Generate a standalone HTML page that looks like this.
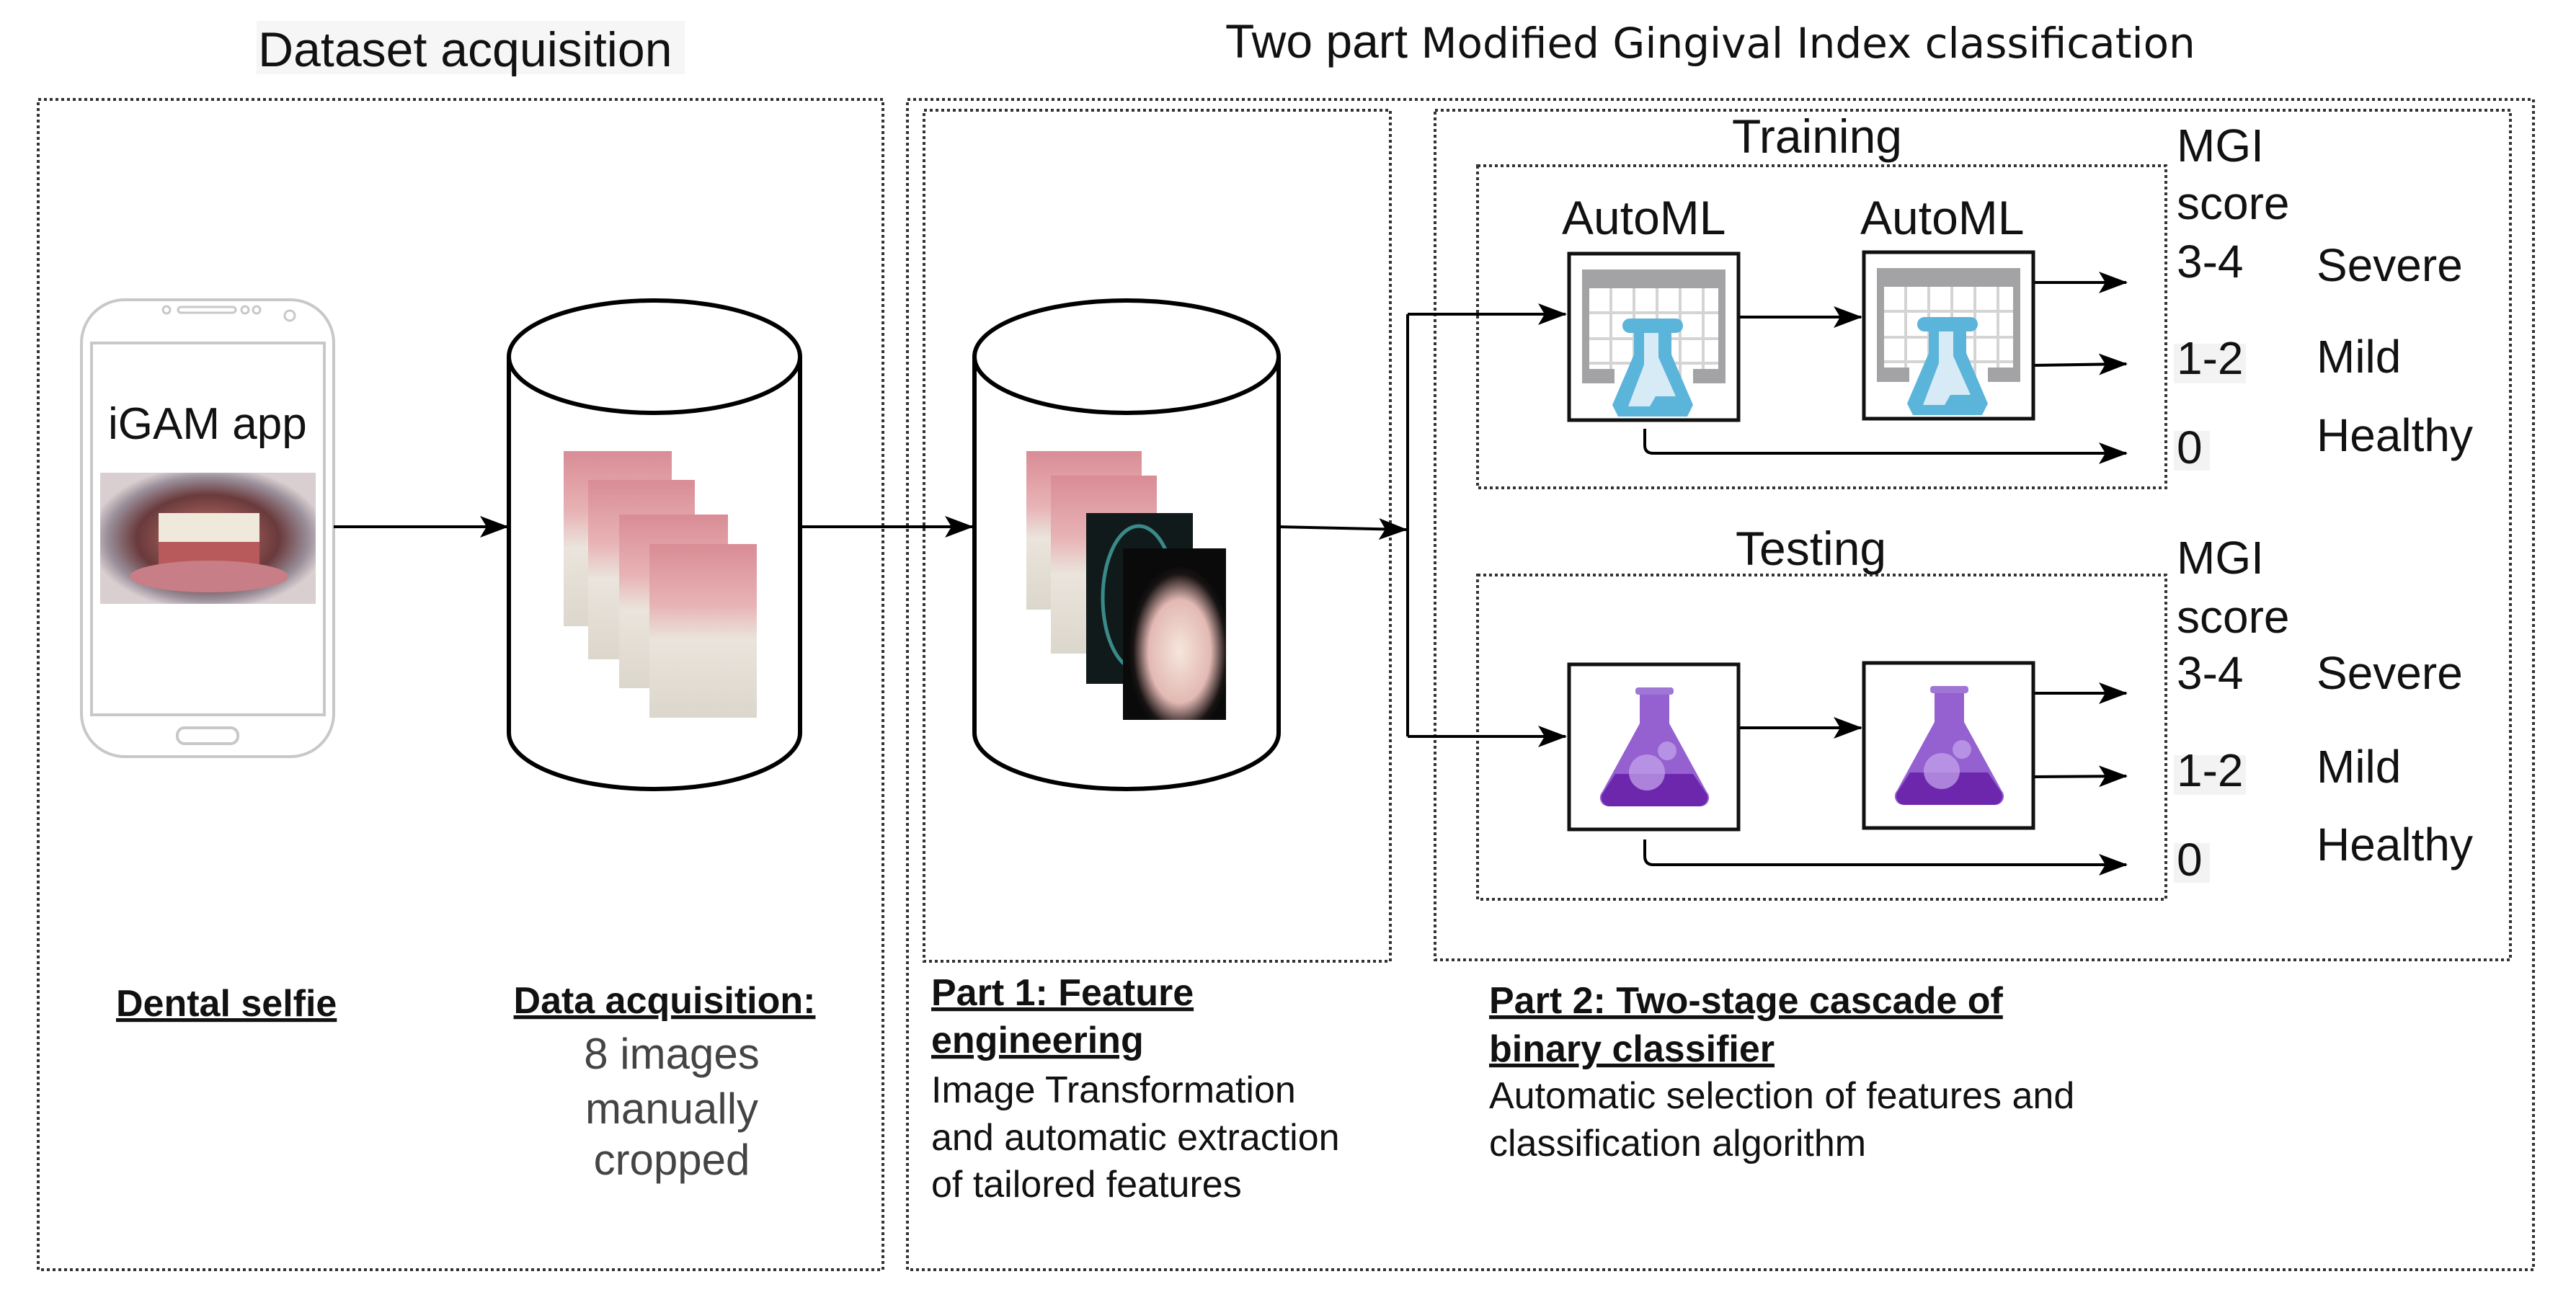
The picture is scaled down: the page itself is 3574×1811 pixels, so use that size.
<!DOCTYPE html>
<html><head><meta charset="utf-8"><style>
html,body{margin:0;padding:0;background:#fff;}
svg{display:block;}
text{font-family:"Liberation Sans",Arial,sans-serif;}
</style></head><body>
<svg width="3574" height="1811" viewBox="0 0 3574 1811" xmlns="http://www.w3.org/2000/svg">
<defs>
<marker id="ah" viewBox="0 0 40 30" refX="38" refY="15" markerWidth="40" markerHeight="30" markerUnits="userSpaceOnUse" orient="auto">
<path d="M0,0 L40,15 L0,30 L9,15 Z" fill="#000"/>
</marker>
<linearGradient id="tooth" x1="0" y1="0" x2="0" y2="1">
<stop offset="0" stop-color="#d98c95"/><stop offset="0.35" stop-color="#e8b3b5"/><stop offset="0.55" stop-color="#eae4dc"/><stop offset="1" stop-color="#dcd7cc"/>
</linearGradient>
<radialGradient id="dark" cx="0.55" cy="0.6" r="0.5">
<stop offset="0" stop-color="#f5e6dc"/><stop offset="0.6" stop-color="#e3b9b4"/><stop offset="0.9" stop-color="#1a1414"/><stop offset="1" stop-color="#0a0a0a"/>
</radialGradient>
<radialGradient id="mouth" cx="0.5" cy="0.5" r="0.55">
<stop offset="0" stop-color="#c9796f"/><stop offset="0.6" stop-color="#6a3a3c"/><stop offset="0.85" stop-color="#9a8f9a"/><stop offset="1" stop-color="#d9cfd0"/>
</radialGradient>
<g id="gridflask">
<rect x="0" y="0" width="235" height="231" fill="#fff" stroke="#111" stroke-width="5"/>
<rect x="18" y="22" width="199" height="158" fill="#a3a3a5"/>
<rect x="28" y="48" width="179" height="132" fill="#fff"/>
<g stroke="#d4d4d4" stroke-width="4">
<line x1="58" y1="48" x2="58" y2="180"/><line x1="90" y1="48" x2="90" y2="180"/><line x1="122" y1="48" x2="122" y2="180"/><line x1="154" y1="48" x2="154" y2="180"/><line x1="186" y1="48" x2="186" y2="180"/>
<line x1="28" y1="82" x2="207" y2="82"/><line x1="28" y1="118" x2="207" y2="118"/><line x1="28" y1="152" x2="207" y2="152"/>
</g>
<rect x="28" y="160" width="35" height="20" fill="#a3a3a5"/><rect x="172" y="160" width="45" height="20" fill="#a3a3a5"/>
<path d="M82,90 h66 a10,10 0 0 1 0,20 h-6 v30 l30,70 l-8,16 h-96 l-8,-16 l30,-70 v-30 h-6 a10,10 0 0 1 0,-20 Z" fill="#5bb4da"/>
<path d="M104,110 h20 v34 l24,54 h-28 l-8,14 h-30 l22,-58 Z" fill="#d6ebf5"/>
</g>
<g id="purpflask">
<rect x="0" y="0" width="235" height="229" fill="#fff" stroke="#111" stroke-width="5"/>
<rect x="92" y="32" width="53" height="10" rx="4" fill="#9f75d6"/>
<path d="M98,42 h41 v40 l52,95 a12,12 0 0 1 -10,20 h-125 a12,12 0 0 1 -10,-20 l52,-95 Z" fill="#9560d0"/>
<path d="M64,152 h108 l19,28 a12,12 0 0 1 -10,17 h-125 a12,12 0 0 1 -10,-17 Z" fill="#6d27ad"/>
<circle cx="108" cy="150" r="25" fill="#c3a2ea" opacity="0.75"/>
<circle cx="136" cy="120" r="13" fill="#c3a2ea" opacity="0.75"/>
</g>
</defs>

<rect x="356" y="29" width="594" height="74" fill="#f6f6f6"/>
<text x="358" y="92" font-size="68" fill="#111">Dataset acquisition</text>
<text x="1700" y="80" font-size="66" fill="#111">Two part <tspan font-family="'DejaVu Sans',sans-serif" font-size="58">Modified Gingival Index classification</tspan></text>

<g fill="none" stroke="#333" stroke-width="4" stroke-dasharray="4 4">
<rect x="53" y="138" width="1172" height="1624"/>
<rect x="1259" y="138" width="2256" height="1624"/>
<rect x="1282" y="153" width="647" height="1181"/>
<rect x="1991" y="153" width="1492" height="1179"/>
<rect x="2050" y="230" width="955" height="447"/>
<rect x="2050" y="798" width="955" height="450"/>
</g>

<rect x="113" y="416" width="350" height="634" rx="60" fill="#fff" stroke="#c8c8c8" stroke-width="4"/>
<rect x="127" y="476" width="323" height="516" fill="#fff" stroke="#c8c8c8" stroke-width="4"/>
<circle cx="231" cy="430" r="5" fill="none" stroke="#c8c8c8" stroke-width="3"/>
<rect x="247" y="426" width="80" height="8" rx="4" fill="none" stroke="#c8c8c8" stroke-width="3"/>
<circle cx="340" cy="430" r="5" fill="none" stroke="#c8c8c8" stroke-width="3"/>
<circle cx="356" cy="430" r="5" fill="none" stroke="#c8c8c8" stroke-width="3"/>
<circle cx="402" cy="438" r="7" fill="none" stroke="#c8c8c8" stroke-width="3"/>
<rect x="246" y="1010" width="84" height="22" rx="10" fill="none" stroke="#c8c8c8" stroke-width="4"/>
<text x="150" y="609" font-size="62" fill="#111" font-family="'DejaVu Sans',sans-serif">iGAM app</text>
<rect x="139" y="656" width="299" height="182" fill="url(#mouth)"/>
<rect x="220" y="712" width="140" height="40" fill="#efe9dc"/>
<rect x="220" y="752" width="140" height="36" fill="#b85a5c"/>
<ellipse cx="290" cy="800" rx="110" ry="22" fill="#c77e86"/>

<g stroke="#000" stroke-width="4" fill="none" marker-end="url(#ah)">
<line x1="463" y1="731" x2="704" y2="731"/>
<line x1="1111" y1="731" x2="1349" y2="731"/>
<line x1="1774" y1="731" x2="1951" y2="735"/>
</g>

<path d="M706,495 V1017 A202,78 0 0 0 1110,1017 V495" fill="#fff" stroke="#000" stroke-width="6"/>
<ellipse cx="908" cy="495" rx="202" ry="78" fill="#fff" stroke="#000" stroke-width="6"/>
<rect x="782" y="626" width="150" height="243" fill="url(#tooth)"/>
<rect x="816" y="666" width="148" height="249" fill="url(#tooth)"/>
<rect x="859" y="714" width="151" height="241" fill="url(#tooth)"/>
<rect x="901" y="755" width="149" height="241" fill="url(#tooth)"/>

<path d="M1352,495 V1017 A211,78 0 0 0 1774,1017 V495" fill="#fff" stroke="#000" stroke-width="6"/>
<ellipse cx="1563" cy="495" rx="211" ry="78" fill="#fff" stroke="#000" stroke-width="6"/>
<rect x="1424" y="626" width="160" height="220" fill="url(#tooth)"/>
<rect x="1458" y="660" width="147" height="247" fill="url(#tooth)"/>
<rect x="1507" y="712" width="148" height="237" fill="#111a1a"/>
<ellipse cx="1580" cy="830" rx="50" ry="100" fill="none" stroke="#3a8a8a" stroke-width="5"/>
<rect x="1558" y="761" width="143" height="238" fill="url(#dark)"/>

<line x1="1953" y1="436" x2="1953" y2="1022" stroke="#000" stroke-width="4"/>
<g stroke="#000" stroke-width="4" fill="none" marker-end="url(#ah)">
<line x1="1953" y1="436" x2="2172" y2="436"/>
<line x1="1953" y1="1022" x2="2172" y2="1022"/>
<line x1="2412" y1="440" x2="2582" y2="440"/>
<line x1="2822" y1="392" x2="2950" y2="392"/>
<line x1="2822" y1="507" x2="2950" y2="505"/>
<path d="M2282,595 V618 Q2282,629 2294,629 H2950"/>
<line x1="2412" y1="1010" x2="2582" y2="1010"/>
<line x1="2822" y1="962" x2="2950" y2="962"/>
<line x1="2822" y1="1078" x2="2950" y2="1077"/>
<path d="M2282,1165 V1188 Q2282,1200 2294,1200 H2950"/>
</g>

<use href="#gridflask" x="2177" y="352"/>
<use href="#gridflask" x="2586" y="350"/>
<use href="#purpflask" x="2177" y="922"/>
<use href="#purpflask" x="2586" y="920"/>

<g font-size="66" fill="#111">
<text x="2403" y="212">Training</text>
<text x="2167" y="325">AutoML</text>
<text x="2581" y="325">AutoML</text>
<text x="2408" y="784">Testing</text>
</g>

<rect x="3016" y="477" width="100" height="55" fill="#f3f3f3"/>
<rect x="3016" y="598" width="50" height="55" fill="#f3f3f3"/>
<rect x="3016" y="1048" width="100" height="55" fill="#f3f3f3"/>
<rect x="3016" y="1170" width="50" height="55" fill="#f3f3f3"/>
<g font-size="64" fill="#111">
<text x="3020" y="224">MGI</text>
<text x="3020" y="304">score</text>
<text x="3020" y="385">3-4</text>
<text x="3214" y="390">Severe</text>
<text x="3020" y="519">1-2</text>
<text x="3214" y="517">Mild</text>
<text x="3020" y="643">0</text>
<text x="3214" y="626">Healthy</text>
<text x="3020" y="796">MGI</text>
<text x="3020" y="878">score</text>
<text x="3020" y="956">3-4</text>
<text x="3214" y="956">Severe</text>
<text x="3020" y="1091">1-2</text>
<text x="3214" y="1086">Mild</text>
<text x="3020" y="1215">0</text>
<text x="3214" y="1194">Healthy</text>
</g>

<text x="161" y="1410" font-size="52" font-weight="bold" text-decoration="underline" fill="#111">Dental selfie</text>
<text x="922" y="1406" font-size="52" font-weight="bold" text-decoration="underline" fill="#111" text-anchor="middle">Data acquisition:</text>
<g font-size="60" fill="#444" text-anchor="middle">
<text x="932" y="1483">8 images</text>
<text x="932" y="1559">manually</text>
<text x="932" y="1630">cropped</text>
</g>
<g font-size="52" fill="#111">
<text x="1292" y="1395" font-weight="bold" text-decoration="underline">Part 1: Feature</text>
<text x="1292" y="1461" font-weight="bold" text-decoration="underline">engineering</text>
<text x="1292" y="1530">Image Transformation</text>
<text x="1292" y="1596">and automatic extraction</text>
<text x="1292" y="1661">of tailored features</text>
<text x="2066" y="1406" font-weight="bold" text-decoration="underline">Part 2: Two-stage cascade of</text>
<text x="2066" y="1473" font-weight="bold" text-decoration="underline">binary classifier</text>
<text x="2066" y="1538">Automatic selection of features and</text>
<text x="2066" y="1604">classification algorithm</text>
</g>
</svg>
</body></html>
